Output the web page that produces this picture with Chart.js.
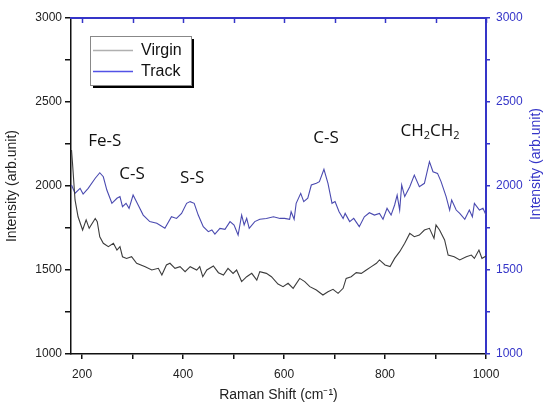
<!DOCTYPE html>
<html>
<head>
<meta charset="utf-8">
<script src="https://cdn.jsdelivr.net/npm/chart.js@4"></script>
<style>
  html, body { margin: 0; padding: 0; background: #fff; }
  #wrap { width: 543px; height: 407px; }
</style>
</head>
<body>
<div id="wrap"><canvas id="ramanChart" width="543" height="407"></canvas></div>
<script>
let virginShift = [179, 181, 186, 192, 201, 208, 214, 226, 230, 235, 242, 252, 262, 269, 275, 280, 288, 298, 308, 325, 338, 351, 358, 367, 374, 384, 394, 404, 414, 427, 433, 439, 447, 460, 470, 480, 489, 499, 506, 516, 526, 536, 546, 552, 565, 575, 588, 598, 608, 618, 631, 641, 651, 664, 677, 687, 697, 707, 717, 723, 733, 743, 753, 763, 773, 783, 789, 800, 810, 819, 829, 839, 849, 858, 868, 878, 888, 897, 901, 908, 918, 925, 937, 948, 961, 971, 977, 986, 992, 1000];
let virginIntensity = [2214, 2135, 1917, 1817, 1738, 1798, 1748, 1807, 1788, 1698, 1659, 1639, 1659, 1619, 1639, 1579, 1569, 1579, 1540, 1520, 1500, 1510, 1470, 1530, 1540, 1510, 1520, 1490, 1520, 1500, 1520, 1460, 1500, 1524, 1484, 1470, 1510, 1480, 1500, 1431, 1460, 1480, 1440, 1490, 1480, 1460, 1416, 1401, 1421, 1391, 1450, 1431, 1401, 1381, 1351, 1371, 1385, 1361, 1391, 1450, 1460, 1484, 1480, 1500, 1520, 1540, 1560, 1530, 1520, 1569, 1609, 1659, 1718, 1698, 1708, 1738, 1748, 1688, 1768, 1738, 1679, 1589, 1579, 1560, 1579, 1589, 1569, 1619, 1569, 1583];

let trackShift = [179, 186, 196, 202, 212, 226, 235, 242, 249, 259, 269, 275, 280, 287, 293, 301, 311, 321, 334, 348, 364, 377, 387, 397, 407, 414, 422, 430, 440, 450, 457, 463, 473, 483, 493, 501, 509, 516, 521, 526, 531, 542, 552, 565, 579, 592, 601, 611, 614, 620, 624, 633, 639, 647, 654, 664, 670, 679, 687, 695, 701, 709, 717, 721, 730, 738, 749, 759, 769, 779, 789, 796, 804, 812, 819, 824, 829, 833, 839, 849, 858, 868, 878, 888, 895, 904, 911, 921, 928, 932, 941, 948, 958, 967, 973, 977, 987, 994, 1000];
let trackIntensity = [2006, 1957, 1986, 1952, 1986, 2046, 2079, 2055, 1976, 1897, 1927, 1937, 1877, 1897, 1867, 1946, 1887, 1827, 1788, 1778, 1748, 1817, 1807, 1837, 1897, 1907, 1897, 1827, 1758, 1728, 1738, 1714, 1748, 1742, 1788, 1768, 1708, 1827, 1768, 1807, 1748, 1788, 1802, 1807, 1817, 1807, 1807, 1802, 1847, 1802, 1897, 1956, 1907, 1927, 2006, 2016, 2026, 2099, 2016, 1897, 1907, 1847, 1807, 1837, 1788, 1807, 1758, 1817, 1841, 1827, 1837, 1802, 1867, 1827, 1887, 1946, 1857, 2006, 1937, 1996, 2065, 1996, 2016, 2145, 2085, 2075, 2026, 1937, 1857, 1917, 1857, 1837, 1802, 1857, 1817, 1897, 1857, 1867, 1827];

let bandLabels = ["Fe-S", "C-S", "S-S", "C-S", "CH2CH2"];
let bandShift = [245, 299, 418, 683, 889];
let bandIntensity = [2268, 2071, 2048, 2286, 2327];

let seriesNames = ["Virgin", "Track"];

const axisBlue = "#3535c8";
const trackColor = "#4a4ab0";
const virginColor = "#3c3c3c";
const tickFont = { family: "'Liberation Sans', Arial, sans-serif", size: 12 };

function toPoints(xs, ys) {
    return xs.map((x, i) => ({ x: x, y: ys[i] }));
}

// band names, inward top ticks, legend box, right title
const extras = {
    id: "extras",
    afterDraw(chart) {
        const ctx = chart.ctx;
        const xs = chart.scales.x;
        const ys = chart.scales.y;
        const area = chart.chartArea;

        ctx.save();
        // top axis ticks pointing into plot
        ctx.strokeStyle = axisBlue;
        ctx.lineWidth = 1.5;
        for (let v = 200; v <= 1000; v += 100) {
            const px = Math.round(xs.getPixelForValue(v)) + 0.5;
            ctx.beginPath();
            ctx.moveTo(px, area.top);
            ctx.lineTo(px, area.top + 5);
            ctx.stroke();
        }

        // band annotations
        ctx.fillStyle = "#111";
        ctx.textBaseline = "middle";
        ctx.font = "17px 'Open Sans', 'Noto Sans', sans-serif";
        bandLabels.forEach((lab, i) => {
            const px = xs.getPixelForValue(bandShift[i]);
            const py = ys.getPixelForValue(bandIntensity[i]);
            if (lab === "CH2CH2") {
                const big = "17px 'Open Sans', 'Noto Sans', sans-serif";
                const small = "11px 'Open Sans', 'Noto Sans', sans-serif";
                const parts = [["CH", big, 0], ["2", small, 5], ["CH", big, 0], ["2", small, 5]];
                let w = 0;
                parts.forEach(p => { ctx.font = p[1]; w += ctx.measureText(p[0]).width; });
                let cx = px - w / 2;
                ctx.textAlign = "left";
                parts.forEach(p => {
                    ctx.font = p[1];
                    ctx.fillText(p[0], cx, py + p[2]);
                    cx += ctx.measureText(p[0]).width;
                });
                ctx.font = big;
            } else {
                ctx.textAlign = "center";
                ctx.fillText(lab, px, py);
            }
        });

        // legend box with shadow
        const lx = 90, ly = 36, lw = 101, lh = 49;
        ctx.fillStyle = "#000";
        ctx.fillRect(lx + 3, ly + 3, lw, lh);
        ctx.fillStyle = "#fff";
        ctx.fillRect(lx, ly, lw, lh);
        ctx.strokeStyle = "#888";
        ctx.lineWidth = 1;
        ctx.strokeRect(lx + 0.5, ly + 0.5, lw, lh);

        const legendColors = ["#b0b0b0", "#5252e6"];
        ctx.font = "16px 'Liberation Sans', Arial, sans-serif";
        ctx.textAlign = "left";
        ctx.textBaseline = "middle";
        seriesNames.forEach((name, i) => {
            const yy = ly + 14 + i * 21;
            ctx.strokeStyle = legendColors[i];
            ctx.lineWidth = 1.5;
            ctx.beginPath();
            ctx.moveTo(lx + 3, yy + 0.5);
            ctx.lineTo(lx + 43, yy + 0.5);
            ctx.stroke();
            ctx.fillStyle = "#111";
            ctx.fillText(name, lx + 51, yy + 1);
        });

        // right axis title, reading bottom to top
        ctx.save();
        ctx.translate(536, (area.top + area.bottom) / 2 - 22);
        ctx.rotate(-Math.PI / 2);
        ctx.fillStyle = axisBlue;
        ctx.font = "14px 'Liberation Sans', Arial, sans-serif";
        ctx.textAlign = "center";
        ctx.textBaseline = "middle";
        ctx.fillText("Intensity (arb.unit)", 0, 0);
        ctx.restore();

        ctx.restore();
    }
};

const ramanChart = new Chart(
    document.getElementById("ramanChart"),
    {
        type: "line",
        data: {
            datasets: [{
                label: seriesNames[0],
                data: toPoints(virginShift, virginIntensity),
                borderColor: virginColor,
                borderWidth: 1.1,
                pointRadius: 0,
                tension: 0,
                yAxisID: "y"
            }, {
                label: seriesNames[1],
                data: toPoints(trackShift, trackIntensity),
                borderColor: trackColor,
                borderWidth: 1.1,
                pointRadius: 0,
                tension: 0,
                yAxisID: "y1"
            }]
        },
        options: {
            responsive: false,
            animation: false,
            layout: { padding: { top: 18, left: 0, right: 0, bottom: 0 } },
            plugins: {
                legend: { display: false },
                tooltip: { enabled: false }
            },
            scales: {
                x: {
                    type: "linear",
                    min: 178,
                    max: 1000,
                    afterBuildTicks: s => {
                        const t = [];
                        for (let v = 200; v <= 1000; v += 100) t.push({ value: v });
                        s.ticks = t;
                    },
                    afterFit: s => { s.height = 53; },
                    border: { color: "#111", width: 1.5 },
                    grid: { display: true, drawOnChartArea: false, tickLength: 5, color: "#111", lineWidth: 1.5 },
                    ticks: {
                        color: "#222",
                        font: tickFont,
                        padding: 8,
                        maxRotation: 0,
                        autoSkip: false,
                        callback: v => (v % 200 === 0 ? String(v) : "")
                    },
                    title: {
                        display: true,
                        text: "Raman Shift (cm⁻¹)",
                        color: "#222",
                        font: { family: "'Liberation Sans', Arial, sans-serif", size: 14 },
                        padding: { top: 0, bottom: 3 }
                    }
                },
                y: {
                    position: "left",
                    min: 1000,
                    max: 3000,
                    afterFit: s => { s.width = 71; },
                    border: { color: "#111", width: 1.5 },
                    grid: { display: true, drawOnChartArea: false, tickLength: 6, color: "#111", lineWidth: 1.5 },
                    ticks: {
                        stepSize: 250,
                        color: "#222",
                        font: tickFont,
                        padding: 3,
                        callback: v => (v % 500 === 0 ? String(v) : "")
                    },
                    title: {
                        display: true,
                        text: "Intensity (arb.unit)",
                        color: "#222",
                        font: { family: "'Liberation Sans', Arial, sans-serif", size: 14 },
                        padding: { top: 4, bottom: 0 }
                    }
                },
                y1: {
                    position: "right",
                    min: 1000,
                    max: 3000,
                    afterFit: s => { s.width = 57; },
                    border: { color: axisBlue, width: 2 },
                    grid: { display: true, drawOnChartArea: false, tickLength: 4, color: axisBlue, lineWidth: 1.5 },
                    ticks: {
                        stepSize: 250,
                        color: axisBlue,
                        font: tickFont,
                        padding: 6,
                        callback: v => (v % 500 === 0 ? String(v) : "")
                    }
                },
                xTop: {
                    type: "linear",
                    position: "top",
                    min: 178,
                    max: 1000,
                    afterFit: s => { s.height = 0; },
                    border: { color: axisBlue, width: 2 },
                    grid: { display: false },
                    ticks: { display: false }
                }
            }
        },
        plugins: [extras]
    }
);
</script>
</body>
</html>
